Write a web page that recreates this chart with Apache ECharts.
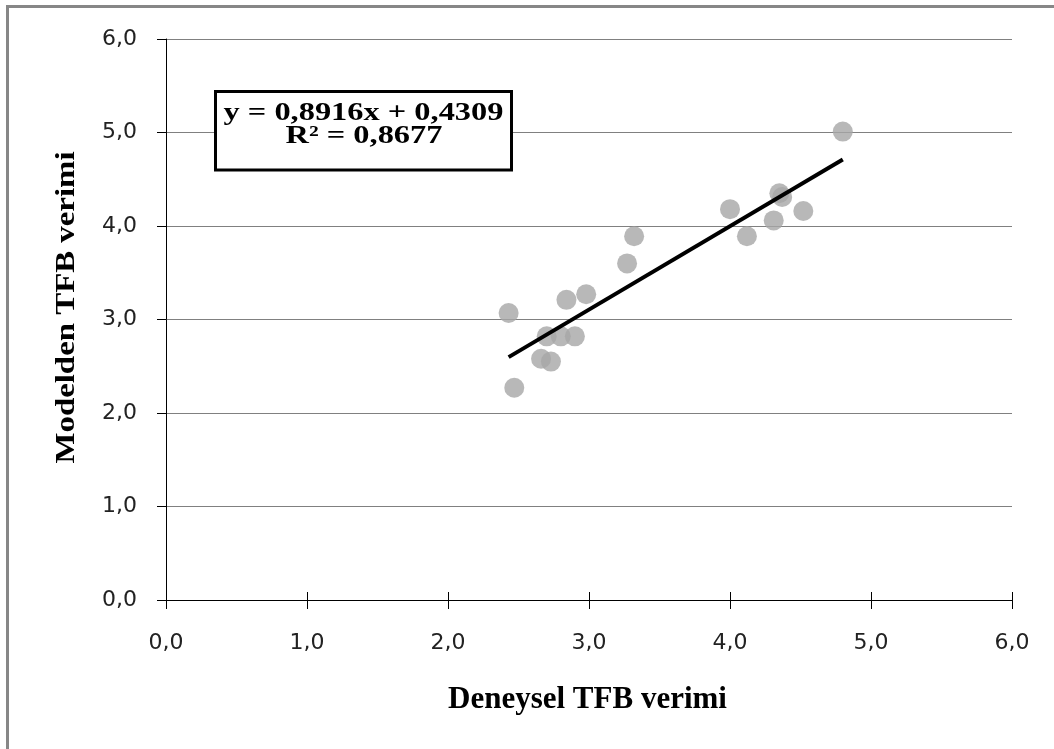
<!DOCTYPE html>
<html>
<head>
<meta charset="utf-8">
<script src="https://cdn.jsdelivr.net/npm/echarts@6/dist/echarts.min.js"></script>
<style>
  html, body { margin: 0; padding: 0; background: #ffffff; }
  #chart { width: 1054px; height: 749px; }
</style>
</head>
<body>
<div id="chart"></div>
<script>
// Data
const expValues   = [4.80, 4.35, 4.37, 4.00, 4.52, 4.31, 4.12, 3.32, 3.27, 2.98, 2.84, 2.43, 2.70, 2.80, 2.90, 2.66, 2.73, 2.47];
const modelValues = [5.01, 4.35, 4.31, 4.18, 4.16, 4.06, 3.89, 3.89, 3.60, 3.27, 3.21, 3.07, 2.82, 2.82, 2.82, 2.58, 2.55, 2.27];
const slope = 0.8916;
const intercept = 0.4309;
const rSquared = '0,8677';
const axisTicks = [0, 1, 2, 3, 4, 5, 6];
const xTitle = 'Deneysel TFB verimi';
const yTitle = 'Modelden TFB verimi';
const eqLine1 = 'y = 0,8916x + 0,4309';
const eqLine2 = 'R\u00B2 = ' + rSquared;

const points = expValues.map((x, i) => [x, modelValues[i]]);
const xMin = Math.min(...expValues);
const xMax = Math.max(...expValues);
const trend = [[xMin, slope * xMin + intercept], [xMax, slope * xMax + intercept]];

const fmt = v => v.toFixed(1).replace('.', ',');

const chart = echarts.init(document.getElementById('chart'), null, { renderer: 'canvas' });

const labelStyle = { fontFamily: 'DejaVu Sans', fontSize: 22, color: '#222222' };

chart.setOption({
  animation: false,
  backgroundColor: '#ffffff',
  grid: { left: 166, right: 42, top: 39, bottom: 149, containLabel: false },
  xAxis: [
    {
      type: 'value', min: axisTicks[0], max: axisTicks[axisTicks.length - 1], interval: 1,
      axisLine: { show: true, lineStyle: { color: '#000000', width: 1 } },
      axisTick: { show: true, inside: false, length: 9, lineStyle: { color: '#000000', width: 1 } },
      axisLabel: Object.assign({ margin: 32, formatter: fmt }, labelStyle),
      splitLine: { show: false }
    },
    {
      type: 'value', min: axisTicks[0], max: axisTicks[axisTicks.length - 1], interval: 1,
      position: 'bottom', offset: 0,
      axisLine: { show: false },
      axisTick: { show: true, inside: true, length: 8, lineStyle: { color: '#000000', width: 1 } },
      axisLabel: { show: false },
      splitLine: { show: false }
    }
  ],
  yAxis: {
    type: 'value', min: axisTicks[0], max: axisTicks[axisTicks.length - 1], interval: 1,
    axisLine: { show: true, lineStyle: { color: '#000000', width: 1 } },
    axisTick: { show: true, inside: false, length: 9, lineStyle: { color: '#000000', width: 1 } },
    axisLabel: Object.assign({ margin: 29, formatter: fmt }, labelStyle),
    splitLine: { show: true, lineStyle: { color: '#808080', width: 1 } }
  },
  series: [
    {
      type: 'scatter', data: points, symbol: 'circle', symbolSize: 20,
      itemStyle: { color: '#A6A6A6' }, z: 2
    },
    {
      type: 'line', data: trend, symbol: 'none', silent: true,
      lineStyle: { color: '#000000', width: 4 }, z: 3
    }
  ],
  graphic: [
    {
      type: 'rect', silent: true, z: 0,
      shape: { x: 7.5, y: 6.5, width: 1200, height: 1000 },
      style: { fill: 'none', stroke: '#878787', lineWidth: 3 }
    },
    {
      type: 'rect', z: 10,
      shape: { x: 215.5, y: 91.5, width: 296, height: 78.5 },
      style: { fill: '#ffffff', stroke: '#000000', lineWidth: 3 }
    },
    {
      type: 'text', z: 11, x: 363.5, y: 113.6, scaleX: 1.35, scaleY: 1.05,
      style: { text: eqLine1, fontFamily: 'Liberation Serif', fontWeight: 'bold', fontSize: 24,
               fill: '#000000', align: 'center', verticalAlign: 'middle' }
    },
    {
      type: 'text', z: 11, x: 364, y: 136, scaleX: 1.35, scaleY: 1.05,
      style: { text: eqLine2, fontFamily: 'Liberation Serif', fontWeight: 'bold', fontSize: 24,
               fill: '#000000', align: 'center', verticalAlign: 'middle' }
    },
    {
      type: 'text', z: 11, x: 587.5, y: 699.5,
      style: { text: xTitle, fontFamily: 'Liberation Serif', fontWeight: 'bold', fontSize: 31,
               fill: '#000000', align: 'center', verticalAlign: 'middle' }
    },
    {
      type: 'text', z: 11, x: 67, y: 307.5, rotation: Math.PI / 2, scaleX: 1.24,
      style: { text: yTitle, fontFamily: 'Liberation Serif', fontWeight: 'bold', fontSize: 26.5,
               fill: '#000000', align: 'center', verticalAlign: 'middle' }
    }
  ]
});
</script>
</body>
</html>
